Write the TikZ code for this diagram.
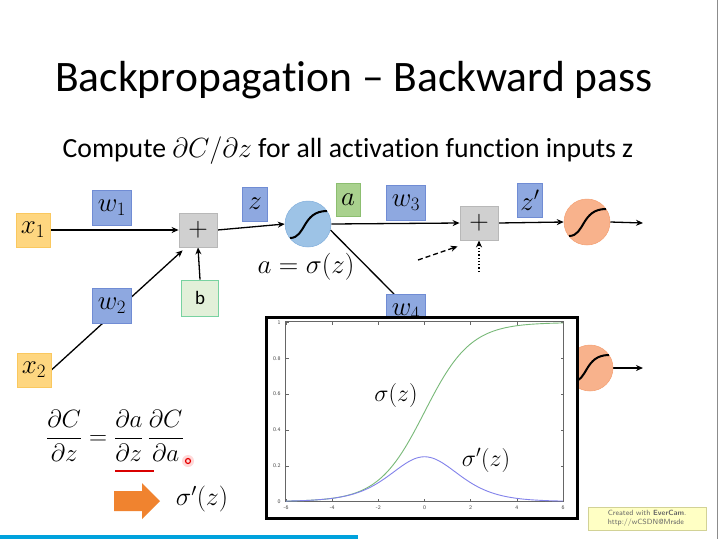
\RequirePackage{fix-cm}
\documentclass[tikz,border=0pt]{standalone}
\usepackage{amsmath}
\usepackage{fontspec}
\setmainfont{Carlito}[Ligatures=NoCommon]
\usetikzlibrary{arrows.meta,calc}
\pgfdeclarelayer{paper}\pgfdeclarelayer{bg}\pgfsetlayers{paper,bg,main}
\definecolor{ylwF}{RGB}{254,214,128}
\definecolor{ylwD}{RGB}{250,200,95}
\definecolor{bluF}{RGB}{142,168,224}
\definecolor{bluD}{RGB}{112,140,212}
\definecolor{grnF}{RGB}{169,209,142}
\definecolor{grnD}{RGB}{140,190,112}
\definecolor{bF}{RGB}{226,240,217}
\definecolor{bD}{RGB}{120,210,160}
\definecolor{gryF}{RGB}{208,208,208}
\definecolor{gryD}{RGB}{184,184,184}
\definecolor{cirB}{RGB}{157,195,230}
\definecolor{cirBD}{RGB}{130,175,220}
\definecolor{cirO}{RGB}{248,178,140}
\definecolor{cirOD}{RGB}{244,160,115}
\definecolor{arrO}{RGB}{240,131,47}
\definecolor{sigG}{RGB}{120,185,120}
\definecolor{sigB}{RGB}{130,130,235}
\definecolor{barB}{RGB}{0,162,221}
\definecolor{evF}{RGB}{255,255,196}
\definecolor{evD}{RGB}{210,210,150}
\tikzset{
  box/.style={draw, line width=0.8pt, inner sep=0pt, font=\fontsize{27}{27}\selectfont},
  xbox/.style={box, fill=ylwF, draw=ylwD, minimum width=34pt, minimum height=34pt},
  wbox/.style={box, fill=bluF, draw=bluD, minimum width=39pt, minimum height=35pt},
  zbox/.style={box, fill=bluF, draw=bluD, minimum width=25pt, minimum height=34pt},
  abox/.style={box, fill=grnF, draw=grnD, minimum width=24pt, minimum height=33pt},
  plusbox/.style={box, fill=gryF, draw=gryD, minimum width=38pt, minimum height=34pt},
  bbox/.style={box, fill=bF, draw=bD, minimum width=37pt, minimum height=36pt, font=\fontsize{19}{19}\selectfont},
  neuronB/.style={circle, fill=cirB, draw=cirBD, line width=0.5pt, minimum size=46pt, inner sep=0pt},
  neuronO/.style={circle, fill=cirO, draw=cirOD, line width=0.5pt, minimum size=46pt, inner sep=0pt},
  conn/.style={line width=1.3pt, -{Stealth[length=7pt,width=6pt]}},
  plain/.style={line width=1.3pt},
  scurve/.style={line width=2pt},
  tick/.style={font=\sffamily\fontsize{5.5}{6}\selectfont, text=black!75}
}
\newcommand{\Scurve}[1]{\draw[scurve] ($(#1)+(-18,14)$) .. controls ($(#1)+(-2,14)$) and ($(#1)+(-6,-13)$) .. ($(#1)+(19,-13)$);}
\begin{document}
\begin{tikzpicture}[x=1pt,y=-1pt,
  declare function={sg(\t)=1/(1+exp(-\t));}]
\useasboundingbox (0,0) rectangle (719,539);
\begin{pgfonlayer}{paper}
\fill[white] (0,0) rectangle (719,539);
\end{pgfonlayer}
% title
\node (title) at (354,80) {\fontsize{43.5}{44}\selectfont Backpropagation -- Backward pass};
\node (sub) at (348,151) {\fontsize{27.7}{29}\selectfont Compute $\partial C/\partial z$ for all activation function inputs z};
% nodes
\node[xbox] (x1) at (33,230) {$x_1$};
\node[wbox] (w1) at (112,208) {$w_1$};
\node[plusbox] (plus1) at (198,230) {$+$};
\node[zbox] (z) at (255,204) {$z$};
\node[neuronB] (sig1) at (308,224) {};
\Scurve{sig1}
\node[abox] (a) at (348,200) {$a$};
\node (aeq) at (306,267) {\fontsize{27}{27}\selectfont $a=\sigma(z)$};
\node[bbox] (b) at (200,298) {b};
\node[wbox] (w2) at (112,306) {$w_2$};
\node[xbox] (x2) at (34,370) {$x_2$};
\node[wbox] (w3) at (406,203) {$w_3$};
\node[wbox] (w4) at (406,312) {$w_4$};
\node[plusbox] (plus2) at (479,223) {$+$};
\node[zbox] (zp) at (530,200) {$z'$};
\node[neuronO] (sig2) at (587,222) {};
\Scurve{sig2}
\node[neuronO] (sig3) at (590,368) {};
\Scurve{sig3}
\coordinate (out2) at (643,223);
\coordinate (out3) at (643,368);
\coordinate (dashin) at (418,260);
\coordinate (dotin) at (479,272);
% connectors
\begin{pgfonlayer}{bg}
\draw[conn] (x1.east) -- (plus1.west);
\draw[conn] (x2.east) -- ($(plus1.south west)+(4,3)$);
\draw[conn] (b.north) -- (plus1.south);
\draw[conn] (plus1.east) -- (sig1.west);
\draw[conn] (sig1.east) -- (plus2.west);
\draw[plain] (sig1.-15) -- ($(w4.north west)+(8,0)$);
\draw[conn, dash pattern=on 5pt off 3pt] (dashin) -- ($(plus2.south west)+(-2,6)$);
\draw[conn, dotted] (dotin) -- (plus2.south);
\draw[conn] (plus2.east) -- (sig2.west);
\draw[conn] (sig2.east) -- (out2);
\draw[conn] (sig3.east) -- (out3);
\end{pgfonlayer}
% plot panel
\draw[line width=3pt, fill=white] (266,317) rectangle (577,518);
\node[inner sep=0pt, minimum width=278pt, minimum height=180pt, draw=black!60, line width=0.5pt] (plot) at (424.5,411.5) {};
\foreach \t in {-6,-4,...,6} {
  \draw[black!60, line width=0.4pt] ({424.5+23.08*\t},501.5) -- ++(0,-3);
  \draw[black!60, line width=0.4pt] ({424.5+23.08*\t},321.5) -- ++(0,3);
  \node[tick] at ({424.5+23.08*\t},508) {\t};
}
\foreach \v/\l in {0/0,0.2/0.2,0.4/0.4,0.6/0.6,0.8/0.8,1/1} {
  \draw[black!60, line width=0.4pt] (285.5,{501.5-179*\v}) -- ++(3,0);
  \draw[black!60, line width=0.4pt] (563.5,{501.5-179*\v}) -- ++(-3,0);
  \node[tick, anchor=east] at (284,{501.5-179*\v}) {\l};
}
\draw[sigG, line width=0.9pt] plot[domain=-6:6, samples=120] ({424.5+23.08*\x},{501.5-179*sg(\x)});
\draw[sigB, line width=0.9pt] plot[domain=-6:6, samples=120] ({424.5+23.08*\x},{501.5-179*sg(\x)*(1-sg(\x))});
\node (lsig) at (396,395) {\fontsize{24}{24}\selectfont $\sigma(z)$};
\node (lsigp) at (486,460) {\fontsize{24}{24}\selectfont $\sigma'(z)$};
% equation
\node (eq) at (115,436) {\fontsize{25}{25}\selectfont $\dfrac{\partial C}{\partial z}=\dfrac{\partial a}{\partial z}\,\dfrac{\partial C}{\partial a}$};
\draw[red!85!black, line width=2.2pt] (115,471) -- (154,471);
\fill[red!25, opacity=0.6] (188,461) circle (6);
\draw[red!90!black, line width=1.2pt] (188,461) circle (2.5);
% orange arrow
\fill[arrO] (114,491) -- (142,491) -- (142,483) -- (160,501) -- (142,519) -- (142,511) -- (114,511) -- cycle;
\node (sigp) at (202,499) {\fontsize{26}{26}\selectfont $\sigma'(z)$};
% evercam badge
\node[draw=evD, fill=evF, line width=0.6pt, minimum width=118pt, minimum height=23pt, inner sep=1pt, align=left, font=\sffamily\fontsize{7.5}{9}\selectfont, text=black!60] (ever) at (647,518.5) {Created with \textbf{EverCam}.\\http://wCSDN@Mrsde};
% frame marks
\draw[black!45, line width=1.5pt] (717.5,0) -- (717.5,539);
\fill[barB] (0,535) rectangle (358,539);
\end{tikzpicture}
\end{document}
